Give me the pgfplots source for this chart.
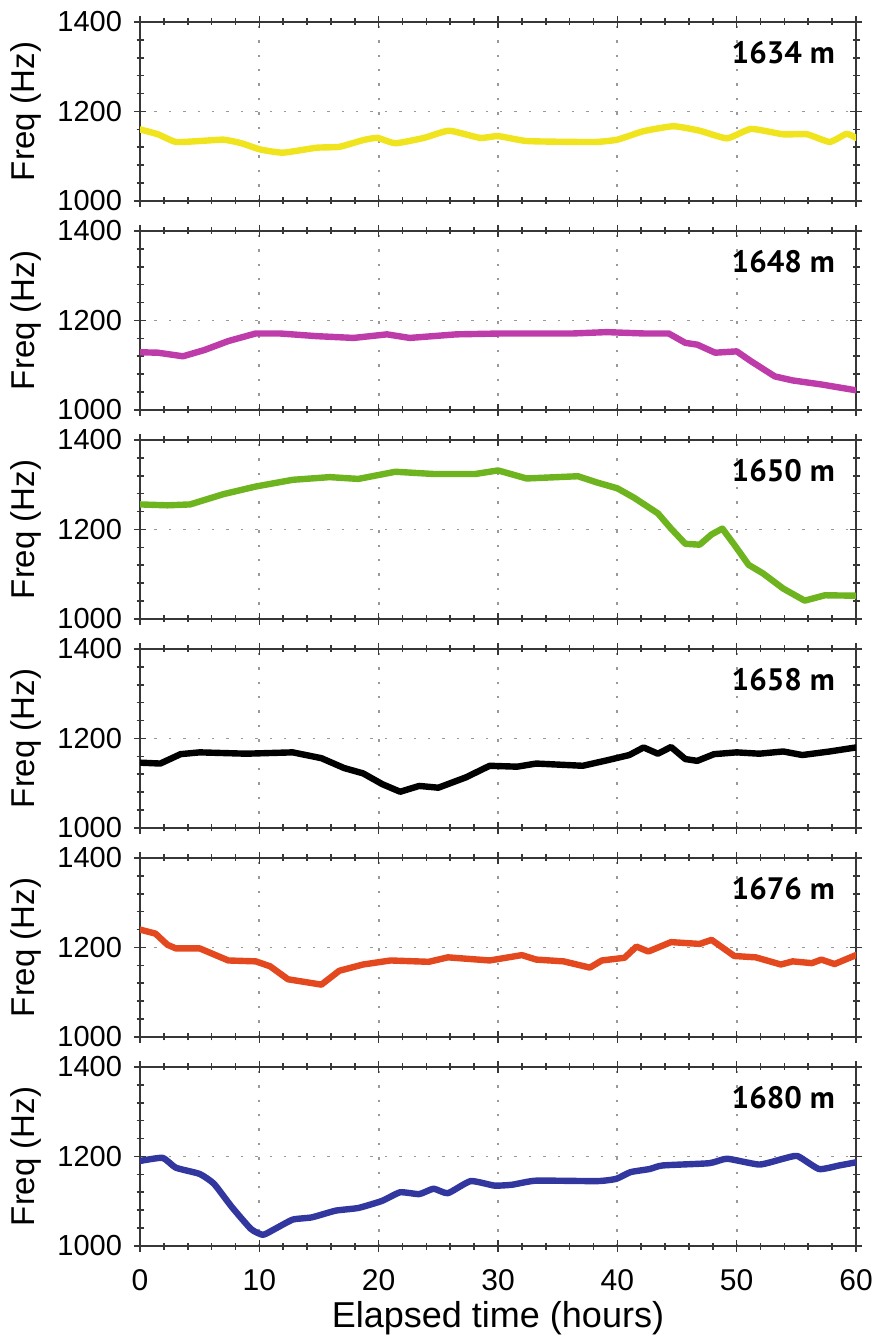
\documentclass[border=0pt]{standalone}
\usepackage{fontspec}
\setmainfont{Liberation Sans}
\newfontfamily\labfont{PT Sans}
\usepackage{pgfplots}
\pgfplotsset{compat=1.18}

\definecolor{cyel}{RGB}{240,228,30}
\definecolor{cmag}{RGB}{190,60,170}
\definecolor{cgrn}{RGB}{110,180,30}
\definecolor{cred}{RGB}{228,72,30}
\definecolor{cblu}{RGB}{50,55,160}
\definecolor{axgray}{RGB}{55,55,55}

\pgfplotsset{
 panel/.style={
  scale only axis, width=358pt, height=89.5pt,
  xmin=0,xmax=60,ymin=1000,ymax=1400,
  xtick={0,10,...,60}, ytick={1000,1200,1400},
  yticklabels={1000,1200,1400},
  scaled y ticks=false,
  minor x tick num=4, minor y tick num=4,
  tick align=center,
  major tick length=6pt, minor tick length=3.5pt,
  every tick/.style={axgray, line width=0.8pt},
  axis line style={axgray, line width=1pt},
  grid=major,
  major grid style={gray!80, line width=0.9pt, dash pattern=on 1.2pt off 6pt},
  yticklabel style={font=\fontsize{14.5}{16}\selectfont, xshift=-2.5pt},
  xticklabel style={font=\fontsize{15}{17}\selectfont, yshift=-5pt},
  ylabel={Freq (Hz)},
  ylabel style={font=\fontsize{16.5}{18}\selectfont, at={(axis description cs:-0.159,0.5)}, anchor=center},
  xticklabels={},
  anchor=south west,
 },
 curve/.style={line width=3.2pt, line join=round, line cap=round},
}
\newcommand{\plabel}[1]{\node[anchor=east, inner sep=0pt, font=\labfont\bfseries\fontsize{15.5}{17}\selectfont] at (rel axis cs:0.971,0.827) {#1};}

\begin{document}
\begin{tikzpicture}
\path[use as bounding box] (0,0) rectangle (438pt,669pt);

% 1634 m
\begin{axis}[panel, at={(70pt,568.5pt)}]
\addplot[curve, cyel, smooth, tension=0.3] coordinates {
(0,1160)(1.5,1149)(3,1132)(5,1134)(7,1137)(8.5,1129)(10.1,1115)(12,1108)(14.8,1119)(16.7,1121)(18.7,1136)(19.9,1141)(21.4,1129)(23.8,1141)(25.9,1157)(28.5,1141)(30,1145)(32.4,1134)(36.3,1132)(38.3,1132)(40,1137)(42.2,1156)(44.7,1167)(46.9,1157)(49.2,1140)(51.2,1161)(53.9,1149)(55.9,1149)(57.8,1132)(59.2,1150)(60,1141)};
\plabel{1634 m}
\end{axis}

% 1648 m
\begin{axis}[panel, at={(70pt,464pt)}]
\addplot[curve, cmag] coordinates {
(0,1129)(1.5,1128)(3.6,1120)(5.4,1134)(7.4,1154)(9.7,1171)(11.7,1171)(14.8,1165)(17.9,1161)(20.7,1169)(22.6,1161)(26.5,1169)(30.4,1171)(36.3,1171)(39.1,1174)(42.2,1171)(44.3,1171)(45.7,1150)(46.7,1146)(48.2,1128)(50,1131)(51.2,1109)(53.2,1075)(54.7,1066)(57.1,1057)(60,1044)};
\plabel{1648 m}
\end{axis}

% 1650 m
\begin{axis}[panel, at={(70pt,359.5pt)}]
\addplot[curve, cgrn] coordinates {
(0,1256)(2.3,1254)(4.2,1256)(7,1279)(9.7,1296)(12.8,1311)(15.9,1317)(18.3,1313)(21.4,1329)(24.6,1324)(28.1,1324)(30,1332)(32.4,1314)(36.7,1319)(38.3,1305)(40,1292)(41.4,1271)(43.4,1236)(44.5,1202)(45.7,1168)(46.9,1166)(47.9,1189)(48.8,1202)(49.8,1166)(51,1121)(52.2,1102)(53.9,1068)(55.7,1041)(57.4,1053)(60,1052)};
\plabel{1650 m}
\end{axis}

% 1658 m
\begin{axis}[panel, at={(70pt,255pt)}]
\addplot[curve, black] coordinates {
(0,1146)(1.7,1144)(3.4,1165)(5,1169)(8.9,1166)(12.8,1169)(15.2,1156)(17.1,1134)(18.7,1122)(20.3,1098)(21.8,1081)(23.4,1094)(25,1090)(27.3,1113)(29.3,1139)(31.6,1137)(33.2,1144)(37.1,1139)(39.1,1151)(41,1163)(42.2,1180)(43.4,1166)(44.5,1181)(45.7,1154)(46.7,1150)(48.1,1165)(50,1169)(51.9,1166)(53.9,1171)(55.5,1163)(57.8,1171)(60,1180)};
\plabel{1658 m}
\end{axis}

% 1676 m
\begin{axis}[panel, at={(70pt,150.5pt)}]
\addplot[curve, cred] coordinates {
(0,1240)(1.3,1231)(2.3,1206)(3,1198)(5,1198)(7.4,1171)(9.7,1169)(10.9,1158)(12.4,1129)(15.2,1117)(16.7,1148)(18.7,1162)(21,1171)(24.2,1168)(25.8,1178)(29.3,1171)(32,1183)(33.2,1173)(35.5,1169)(37.7,1155)(38.7,1171)(40.6,1177)(41.6,1202)(42.6,1191)(44.5,1212)(46.9,1208)(47.9,1217)(49.8,1181)(51.6,1178)(53.7,1162)(54.7,1169)(56.3,1165)(57.1,1173)(58.2,1163)(60,1183)};
\plabel{1676 m}
\end{axis}

% 1680 m
\begin{axis}[panel, at={(70pt,46pt)},
  xticklabels={0,10,20,30,40,50,60},
  xlabel={Elapsed time (hours)},
  xlabel style={font=\fontsize{18}{20}\selectfont, at={(axis description cs:0.5,-0.458)}, anchor=base}]
\addplot[curve, cblu, smooth, tension=0.3] coordinates {
(0,1190)(1.9,1197)(3,1175)(5,1161)(6.2,1139)(7.7,1087)(9.3,1038)(10.3,1025)(11.3,1038)(12.8,1059)(14.4,1064)(16.4,1079)(18.3,1085)(20.3,1101)(21.8,1120)(23.4,1116)(24.6,1128)(25.8,1118)(27.7,1145)(29.7,1135)(31.2,1137)(33.2,1146)(38.3,1145)(39.9,1150)(41.1,1165)(42.7,1172)(43.8,1180)(47.7,1185)(49.2,1195)(51.9,1182)(53.9,1195)(55.1,1201)(56.9,1172)(58.6,1180)(60,1187)};
\plabel{1680 m}
\end{axis}
\end{tikzpicture}
\end{document}
